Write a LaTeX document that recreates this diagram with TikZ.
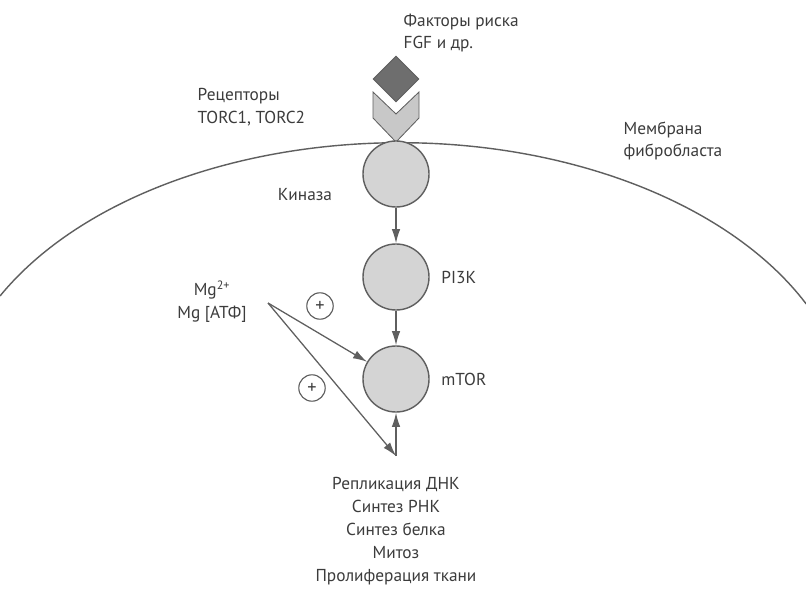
\documentclass[tikz,border=0pt]{standalone}
\usepackage{fontspec}
\setmainfont{PT Sans}
\usepackage{xcolor}
\usetikzlibrary{shapes.geometric,positioning,arrows.meta}
\definecolor{inkgray}{RGB}{60, 60, 60}
\definecolor{linegray}{RGB}{95, 95, 95}
\definecolor{cellgray}{RGB}{212, 212, 212}
\definecolor{receptorgray}{RGB}{200, 200, 200}
\definecolor{ligandgray}{RGB}{110, 110, 110}

\begin{document}
\begin{tikzpicture}[x=0.025cm, y=-0.025cm,
  every node/.style={text=inkgray, font=\fontsize{12.3}{16.3}\selectfont},
  lbl/.style={align=center, inner sep=1pt},
  enzyme/.style={circle, draw=linegray, line width=1pt, fill=cellgray, minimum size=1.65cm, inner sep=0pt},
  flow/.style={draw=linegray, line width=0.9pt, -{Latex[length=10pt, width=6pt]}},
  plusmark/.style={circle, draw=linegray, line width=0.8pt, minimum size=0.66cm, inner sep=0pt, font=\fontsize{13}{13}\selectfont}]
\useasboundingbox[fill=white] (0,0) rectangle (806,590);

% membrane
\draw[linegray, line width=1pt] (0,296) arc[start angle=152.7, end angle=25.5, x radius=11.25cm, y radius=7.075cm];
\node[lbl, align=left, anchor=west] (membrane) at (622,141) {Мембрана\\фибробласта};

% ligand and receptor
\node[diamond, draw=linegray, line width=0.6pt, fill=ligandgray, minimum width=1.15cm, minimum height=1.15cm, inner sep=0pt] (ligand) at (396,79) {};
\node[lbl, align=left, anchor=west] (factors) at (402,33) {Факторы риска\\FGF и др.};
\draw[linegray, line width=0.6pt, fill=receptorgray] (373,92) -- (396,114) -- (419,92) -- (419,118) -- (396,142) -- (373,118) -- cycle;
\node[lbl, align=left, anchor=west] (receptors) at (196,107) {Рецепторы\\TORC1, TORC2};

% cascade
\node[enzyme] (kinase) at (396,174) {};
\node[enzyme] (pi3k) at (396,277) {};
\node[enzyme] (mtor) at (396,379) {};
\node[lbl] (kinaselbl) at (305,195) {Киназа};
\node[lbl, anchor=west, right=0.25cm of pi3k] (pi3klbl) {PI3K};
\node[lbl, anchor=west, right=0.25cm of mtor] (mtorlbl) {mTOR};
\draw[flow] (kinase) -- (pi3k);
\draw[flow] (pi3k) -- (mtor);

% magnesium
\node[lbl] (mg) at (212,302) {Mg\textsuperscript{2+}\\Mg [АТФ]};
\coordinate (mgsrc) at (268,303);
\coordinate (out) at (396,456);
\node[plusmark] (plusa) at (320,306) {+};
\node[plusmark] (plusb) at (312,388) {+};
\draw[flow] (mgsrc) -- (mtor);
\draw[flow] (mgsrc) -- (out);
\draw[flow] (out) -- (mtor);

% effects
\node[lbl, below=0.5cm of out, anchor=north] (effects) {Репликация ДНК\\Синтез РНК\\Синтез белка\\Митоз\\Пролиферация ткани};
\end{tikzpicture}
\end{document}
